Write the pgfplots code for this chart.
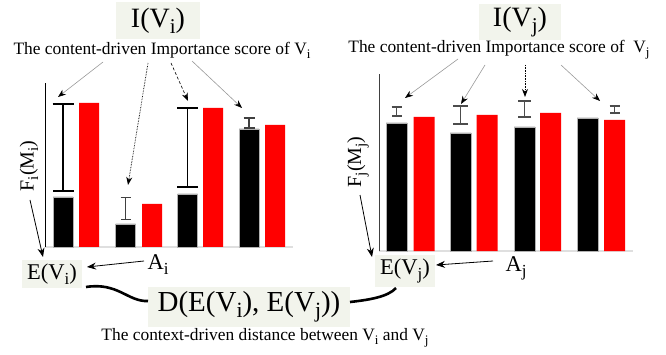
\documentclass[border=0pt]{standalone}
\usepackage{fontspec}
\setmainfont{Liberation Serif}
\usepackage{graphicx}
\usepackage{pgfplots}
\pgfplotsset{compat=1.18}
\usetikzlibrary{arrows.meta}
\definecolor{boxbg}{RGB}{242,244,236}
\newcommand{\sub}[1]{\raisebox{-0.22em}{\scalebox{0.75}{#1}}}
\begin{document}
\begin{tikzpicture}
\useasboundingbox (0pt,0pt) rectangle (666pt,-355pt);
\pgfplotsset{
  mybars/.style={scale only axis, enlargelimits=false, clip=false, xtick=\empty, ytick=\empty,
    axis x line=bottom, axis y line=left,
    x axis line style={-, draw=gray!25, line width=1.6pt},
    y axis line style={-, draw=black, line width=0.8pt}, ymin=0},
  blackbar/.style={ybar, bar shift=0pt, bar width=20, fill=black, draw=gray!60, line width=0.7pt},
  redbar/.style={ybar, bar shift=0pt, bar width=20, fill=red, draw=none},
  errb/.style n args={3}{draw=none, no markers, forget plot,
    error bars/.cd, y dir=both, y explicit,
    error bar style={draw=#1, line width=#2, solid},
    error mark options={rotate=90, draw=#1, line width=#2, mark size=#3, solid}},
}
% ---------- left chart ----------
\begin{axis}[mybars, at={(45pt,-247pt)}, anchor=south west, width=248pt, height=164pt,
  xmin=45, xmax=293, ymax=164]
\addplot[blackbar] coordinates {(63,50) (125.5,23) (187.5,53) (249,118)};
\addplot[redbar] coordinates {(89,144) (152,43) (213,139) (275,122)};
\addplot[errb={black}{1.5pt}{10.5pt}] coordinates {(63,99.5) +- (0,43.5) (187.5,99.5) +- (0,39.5)};
\addplot[errb={black!75}{1pt}{5pt}] coordinates {(125.5,38) +- (0,11)};
\addplot[errb={black!75}{1.2pt}{5.5pt}] coordinates {(249,124) +- (0,5)};
\end{axis}
% ---------- right chart ----------
\begin{axis}[mybars, at={(379pt,-251pt)}, anchor=south west, width=254pt, height=177pt,
  xmin=379, xmax=633, ymax=177, y axis line style={draw=black!75},
  blackbar/.append style={bar width=21}, redbar/.append style={bar width=21}]
\addplot[blackbar] coordinates {(396.5,128) (460.5,118) (524.5,124) (587.5,133)};
\addplot[redbar] coordinates {(424,134) (487,136) (550.5,138) (614.5,131)};
\addplot[errb={black!70}{1.2pt}{5pt}] coordinates {(396.5,139.5) +- (0,4.5) (614.5,141.5) +- (0,3.5)};
\addplot[errb={black!70}{1.2pt}{7.5pt}] coordinates {(460.5,136) +- (0,9)};
\addplot[errb={black!70}{1.2pt}{6.5pt}] coordinates {(524.5,142) +- (0,8)};
\end{axis}
% ---------- annotations ----------
\begin{scope}[x=1pt, y=-1pt]
\tikzset{lbl/.style={fill=boxbg, inner sep=0pt, anchor=center},
  arr/.style={draw=gray!80, line width=0.6pt, -{Stealth[length=8pt, width=6pt, black]}}}
% titles
\node[lbl, minimum width=84pt, minimum height=37pt, font=\fontsize{28}{32}\selectfont] at (158,21) {I(V\sub{i})};
\node[lbl, minimum width=82pt, minimum height=36pt, font=\fontsize{28}{32}\selectfont] at (520,22) {I(V\sub{j})};
\node[font=\fontsize{17.4}{20}\selectfont, inner sep=0pt] at (162,50) {The content-driven Importance score of V\sub{i}};
\node[font=\fontsize{17.4}{20}\selectfont, inner sep=0pt] at (499,50) {The content-driven Importance score of \ V\sub{j}};
% arrows from captions (left)
\draw[arr] (103,62) -- (58,97);
\draw[arr, draw=black, densely dotted, line width=0.8pt] (148,63) -- (128,185);
\draw[arr, draw=black, densely dashed, line width=0.6pt] (171,63) -- (188,101);
\draw[arr] (192,61) -- (242,108);
% arrows from captions (right)
\draw[arr] (458,59) -- (405,98);
\draw[arr] (485,65) -- (461,104);
\draw[arr, draw=black, densely dotted, line width=0.8pt] (525,65) -- (525,97);
\draw[arr] (561,65) -- (600,101);
% y labels
\node[rotate=90, font=\fontsize{20}{22}\selectfont, inner sep=0pt] at (29,166) {F\sub{i}(M\sub{i})};
\node[rotate=90, font=\fontsize{20}{22}\selectfont, inner sep=0pt] at (358,162) {F\sub{j}(M\sub{j})};
% E boxes
\node[lbl, minimum width=60pt, minimum height=28pt, font=\fontsize{22.5}{24}\selectfont] at (52,274) {E(V\sub{i})};
\node[lbl, minimum width=60pt, minimum height=32pt, font=\fontsize{22.5}{24}\selectfont] at (405,271) {E(V\sub{j})};
% A labels
\node[font=\fontsize{22.5}{24}\selectfont, inner sep=0pt] at (158,265) {A\sub{i}};
\node[font=\fontsize{22.5}{24}\selectfont, inner sep=0pt] at (516,268) {A\sub{j}};
\draw[-{Stealth[length=9pt, width=7pt]}, line width=0.8pt] (144,261) -- (87,267);
\draw[-{Stealth[length=9pt, width=7pt]}, line width=0.8pt] (493,261) -- (436,265);
\draw[-{Stealth[length=9pt, width=7pt]}, line width=0.8pt] (30,200) -- (43,257);
\draw[-{Stealth[length=9pt, width=7pt]}, line width=0.8pt] (360,195) -- (372,257);
% distance box
\node[lbl, minimum width=202pt, minimum height=40pt, font=\fontsize{29}{32}\selectfont] at (249,307) {D(E(V\sub{i}), E(V\sub{j}))};
\draw[line width=2.6pt] (86,287) .. controls (118,282) and (128,302) .. (148,301);
\draw[line width=2.6pt] (396,288) .. controls (388,297) and (368,300) .. (350,302);
\node[font=\fontsize{17.4}{20}\selectfont, inner sep=0pt] at (265,338) {The context-driven distance between V\sub{i} and V\sub{j}};
\end{scope}
\end{tikzpicture}
\end{document}
